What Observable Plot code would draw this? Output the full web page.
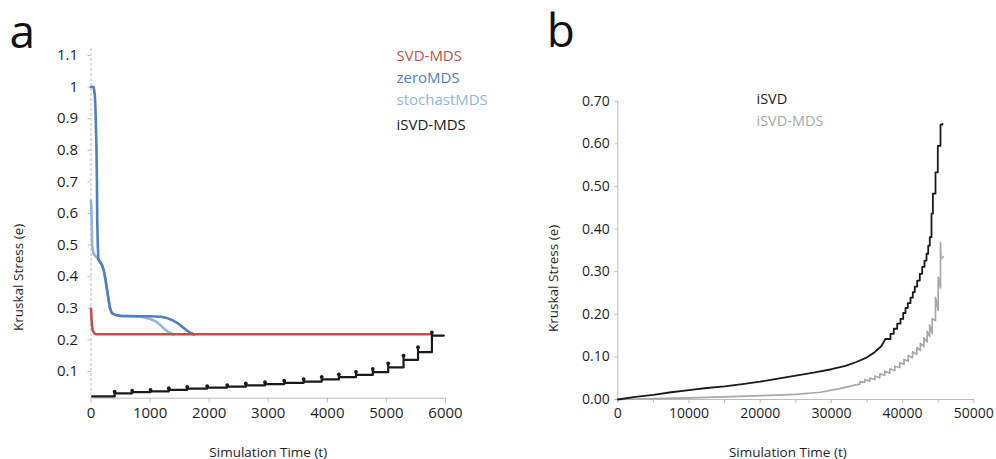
<!DOCTYPE html>
<html>
<head>
<meta charset="utf-8">
<script src="https://cdn.jsdelivr.net/npm/d3@7"></script>
<script src="https://cdn.jsdelivr.net/npm/@observablehq/plot@0.6"></script>
<style>
  html, body { margin: 0; padding: 0; background: #fff; }
  #wrap { display: flex; width: 996px; height: 459px; }
  svg { overflow: visible; }
</style>
</head>
<body>
<div id="wrap"></div>
<script>
// ---------- Panel a data ----------
const panelLabels = ["a", "b"];
const seriesNamesA = ["SVD-MDS", "zeroMDS", "stochastMDS", "iSVD-MDS"];
const seriesColorsA = ["#c0504d", "#4f81bd", "#95b3d7", "#1a1a1a"];

const svdT = [0, 10, 25, 50, 80, 5770];
const svdV = [0.298, 0.262, 0.232, 0.222, 0.218, 0.218];

const zeroT = [0, 45, 64, 76, 93, 100, 105, 115, 125, 161, 190, 217, 245, 274, 300, 318, 340, 358, 420, 500, 838, 1007, 1177, 1290, 1380, 1459, 1540, 1628, 1700, 1741];
const zeroV = [1.0, 1.0, 0.977, 0.93, 0.804, 0.70, 0.58, 0.50, 0.455, 0.445, 0.435, 0.419, 0.392, 0.356, 0.325, 0.303, 0.29, 0.284, 0.279, 0.276, 0.275, 0.275, 0.273, 0.269, 0.262, 0.254, 0.242, 0.229, 0.221, 0.217];

const stochT = [0, 10, 20, 40, 70, 100, 132, 161, 190, 217, 245, 274, 300, 318, 340, 358, 420, 500, 838, 1007, 1100, 1177, 1233, 1300, 1360, 1402];
const stochV = [0.64, 0.60, 0.50, 0.475, 0.466, 0.46, 0.452, 0.445, 0.435, 0.419, 0.392, 0.356, 0.325, 0.303, 0.29, 0.284, 0.279, 0.276, 0.274, 0.266, 0.258, 0.246, 0.236, 0.226, 0.220, 0.217];

const isvdStepT = [20, 400, 697, 1007, 1317, 1628, 1966, 2305, 2620, 2945, 3270, 3600, 3905, 4195, 4485, 4770, 5030, 5290, 5535, 5770, 5972];
const isvdLevel = [0.021, 0.031, 0.0345, 0.037, 0.042, 0.046, 0.049, 0.052, 0.056, 0.060, 0.064, 0.068, 0.075, 0.082, 0.089, 0.098, 0.113, 0.137, 0.161, 0.2135, 0.2135];
const isvdSpike = [null, 0.036, 0.039, 0.042, 0.047, 0.051, 0.054, 0.057, 0.062, 0.066, 0.071, 0.076, 0.083, 0.091, 0.099, 0.108, 0.126, 0.150, 0.177, 0.224, null];

const xDomainA = [0, 6000];
const yDomainA = [0.0155, 1.122];
const xTicksA = [0, 1000, 2000, 3000, 4000, 5000, 6000];
const xTickLabelsA = ["0", "1000", "2000", "3000", "4000", "5000", "6000"];
const yTicksA = [0.1, 0.2, 0.3, 0.4, 0.5, 0.6, 0.7, 0.8, 0.9, 1.0, 1.1];
const yTickLabelsA = ["0.1", "0.2", "0.3", "0.4", "0.5", "0.6", "0.7", "0.8", "0.9", "1", "1.1"];

// ---------- Panel b data ----------
const seriesNamesB = ["iSVD", "iSVD-MDS"];
const seriesColorsB = ["#1a1a1a", "#a8a8a8"];

// smooth lower part of iSVD
const isvdLowT = [0, 2500, 5000, 7500, 10000, 12500, 15000, 17500, 20000, 22500, 25000, 27500, 30000, 32000, 33500, 35000, 36000, 37000, 37599];
const isvdLowV = [0, 0.006, 0.011, 0.017, 0.022, 0.027, 0.031, 0.036, 0.042, 0.049, 0.056, 0.063, 0.071, 0.079, 0.088, 0.099, 0.110, 0.125, 0.142];
// stair-stepped upper part of iSVD
const isvdHighT = [37599, 38301, 38764, 39242, 39705, 40084, 40409, 40731, 41110, 41434, 41715, 42049, 42416, 42753, 43076, 43357, 43595, 43820, 44059, 44250, 44620, 44944, 45323, 45600];
const isvdHighV = [0.142, 0.154, 0.166, 0.178, 0.189, 0.203, 0.215, 0.226, 0.239, 0.252, 0.265, 0.279, 0.295, 0.311, 0.326, 0.342, 0.361, 0.381, 0.436, 0.483, 0.533, 0.595, 0.645, 0.647];

const mdsBT = [0, 5000, 10000, 15000, 20000, 25000, 28470, 31000, 33150,
  34000, 34000, 34700, 34700, 35400, 35400, 36100, 36100, 36800, 36800, 37500, 37500, 38200, 38200, 38900, 38900,
  39600, 39600, 40200, 40200, 40800, 40800, 41400, 41400, 42000, 42000, 42500, 42500, 43000, 43000, 43450, 43450,
  43800, 43800, 44158, 44158, 44620, 44620, 45000, 45000, 45323, 45323, 45400, 45700];
const mdsBV = [0, 0.002, 0.004, 0.006, 0.009, 0.012, 0.017, 0.025, 0.033,
  0.036, 0.042, 0.040, 0.047, 0.043, 0.050, 0.047, 0.055, 0.051, 0.060, 0.057, 0.066, 0.062, 0.072, 0.068, 0.078,
  0.075, 0.086, 0.083, 0.094, 0.090, 0.103, 0.098, 0.112, 0.106, 0.122, 0.115, 0.132, 0.124, 0.145, 0.135, 0.160,
  0.148, 0.175, 0.155, 0.190, 0.185, 0.240, 0.209, 0.287, 0.262, 0.368, 0.330, 0.335];

const xDomainB = [0, 50000];
const yDomainB = [0, 0.70];
const xTicksB = [0, 5000, 10000, 15000, 20000, 25000, 30000, 35000, 40000, 45000, 50000];
const xTickLabelsB = ["0", "", "10000", "", "20000", "", "30000", "", "40000", "", "50000"];
const yTicksB = [0, 0.1, 0.2, 0.3, 0.4, 0.5, 0.6, 0.7];
const yTickLabelsB = ["0.00", "0.10", "0.20", "0.30", "0.40", "0.50", "0.60", "0.70"];

const xLabel = "Simulation Time (t)";
const yLabel = "Kruskal Stress (e)";

// ---------- helpers ----------
const zip = (T, V) => T.map((t, i) => ({t, v: V[i]}));
const FONT = "'Open Sans', 'Noto Sans', sans-serif";
const AXIS_GREY = "#bdbdbd";
const TEXT = "#1e1e1e";

// ---------- Panel a ----------
const steps = isvdStepT.map((t, i) => ({t, level: isvdLevel[i], spike: isvdSpike[i]})).filter(d => d.spike != null);

const plotA = Plot.plot({
  width: 498, height: 459,
  marginLeft: 90.5, marginRight: 53, marginTop: 48, marginBottom: 61.3,
  style: {fontFamily: FONT, color: TEXT, background: "transparent", overflow: "visible"},
  x: {domain: xDomainA},
  y: {domain: yDomainA},
  marks: [
    Plot.ruleX([xDomainA[0]], {stroke: AXIS_GREY, strokeDasharray: "3,2"}),
    Plot.ruleY([yDomainA[0]], {stroke: AXIS_GREY}),
    Plot.axisX({ticks: xTicksA, tickFormat: d => xTickLabelsA[xTicksA.indexOf(d)], tickSize: 5, tickPadding: 4, fontSize: 15, stroke: AXIS_GREY, fill: TEXT, label: null}),
    Plot.axisY({ticks: yTicksA, tickFormat: d => yTickLabelsA[yTicksA.findIndex(v => Math.abs(v - d) < 1e-9)], tickSize: 3, tickPadding: 10, fontSize: 15, stroke: AXIS_GREY, fill: TEXT, label: null}),
    Plot.line(zip(stochT, stochV), {x: "t", y: "v", stroke: seriesColorsA[2], strokeWidth: 2.6}),
    Plot.line(zip(zeroT, zeroV), {x: "t", y: "v", stroke: seriesColorsA[1], strokeWidth: 2.6}),
    Plot.line(zip(svdT, svdV), {x: "t", y: "v", stroke: seriesColorsA[0], strokeWidth: 2.6}),
    Plot.line(zip(isvdStepT, isvdLevel), {x: "t", y: "v", curve: "step-after", stroke: seriesColorsA[3], strokeWidth: 2.2}),
    Plot.ruleX(steps, {x: "t", y1: "level", y2: "spike", stroke: seriesColorsA[3], strokeWidth: 2.2}),
    Plot.dot(steps, {x: "t", y: "spike", r: 1.9, fill: seriesColorsA[3], stroke: null}),
    // legend
    ...seriesNamesA.map((name, i) => Plot.text([name], {frameAnchor: "top-left", dx: 305.5, dy: [8, 30, 52, 77][i], textAnchor: "start", lineAnchor: "middle", fill: seriesColorsA[i], fontSize: 15})),
    // axis titles
    Plot.text([xLabel], {frameAnchor: "bottom", dy: 54, textAnchor: "middle", lineAnchor: "middle", fontSize: 13.5, fill: TEXT}),
    Plot.text([yLabel], {frameAnchor: "left", dx: -72.5, dy: 54, rotate: -90, textAnchor: "middle", lineAnchor: "middle", fontSize: 13.5, fill: TEXT}),
    // panel label
    Plot.text([panelLabels[0]], {frameAnchor: "top-left", dx: -81.5, dy: -1, textAnchor: "start", lineAnchor: "bottom", fontSize: 46, fill: "#111"})
  ]
});

// ---------- Panel b ----------
const plotB = Plot.plot({
  width: 498, height: 459,
  marginLeft: 119.3, marginRight: 22.7, marginTop: 100.7, marginBottom: 60,
  style: {fontFamily: FONT, color: TEXT, background: "transparent", overflow: "visible"},
  x: {domain: xDomainB},
  y: {domain: yDomainB},
  marks: [
    Plot.ruleX([xDomainB[0]], {stroke: AXIS_GREY}),
    Plot.ruleY([yDomainB[0]], {stroke: AXIS_GREY}),
    Plot.axisX({ticks: xTicksB, tickFormat: d => xTickLabelsB[xTicksB.indexOf(d)], tickSize: 4, tickPadding: 5, fontSize: 14, stroke: AXIS_GREY, fill: TEXT, label: null}),
    Plot.axisY({ticks: yTicksB, tickFormat: d => yTickLabelsB[yTicksB.findIndex(v => Math.abs(v - d) < 1e-9)], tickSize: 3, tickPadding: 5, fontSize: 14, stroke: AXIS_GREY, fill: TEXT, label: null}),
    Plot.line(zip(mdsBT, mdsBV), {x: "t", y: "v", stroke: seriesColorsB[1], strokeWidth: 1.7}),
    Plot.line(zip(isvdLowT, isvdLowV), {x: "t", y: "v", stroke: seriesColorsB[0], strokeWidth: 1.8}),
    Plot.line(zip(isvdHighT, isvdHighV), {x: "t", y: "v", curve: "step-after", stroke: seriesColorsB[0], strokeWidth: 1.8}),
    ...seriesNamesB.map((name, i) => Plot.text([name], {frameAnchor: "top-left", dx: 138.7, dy: [-1.7, 20.3][i], textAnchor: "start", lineAnchor: "middle", fill: seriesColorsB[i], fontSize: 14.5})),
    Plot.text([xLabel], {frameAnchor: "bottom", dx: -8, dy: 53, textAnchor: "middle", lineAnchor: "middle", fontSize: 13.5, fill: TEXT}),
    Plot.text([yLabel], {frameAnchor: "left", dx: -64, dy: 28, rotate: -90, textAnchor: "middle", lineAnchor: "middle", fontSize: 13.5, fill: TEXT}),
    Plot.text([panelLabels[1]], {frameAnchor: "top-left", dx: -71, dy: -53.7, textAnchor: "start", lineAnchor: "bottom", fontSize: 46, fill: "#111"})
  ]
});

const wrap = document.getElementById("wrap");
wrap.appendChild(plotA);
wrap.appendChild(plotB);
</script>
</body>
</html>
